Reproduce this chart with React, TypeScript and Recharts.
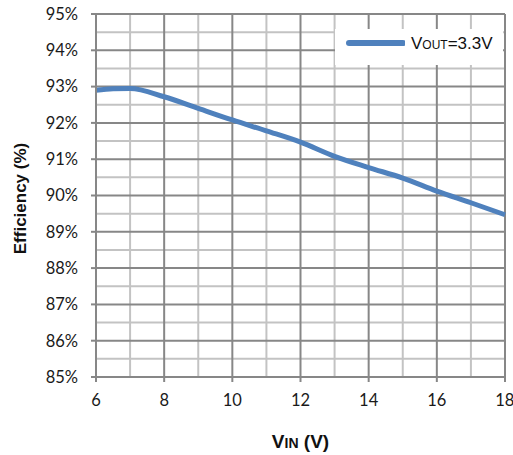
import React from 'react';
import { LineChart, Line, XAxis, YAxis, ReferenceLine } from 'recharts';

// Efficiency vs input voltage, Vout = 3.3V
const vinValues = [6, 6.5, 7, 8, 9, 10, 11, 12, 13, 14, 15, 16, 17, 18];
const efficiencyValues = [92.9, 92.94, 92.95, 92.72, 92.4, 92.08, 91.78, 91.47, 91.08, 90.77, 90.48, 90.12, 89.8, 89.47];

const xTicks = [6, 8, 10, 12, 14, 16, 18];
const yTicks = [85, 86, 87, 88, 89, 90, 91, 92, 93, 94, 95];
const xMinor = [7, 9, 11, 13, 15, 17];
const yMinor = [85.5, 86.5, 87.5, 88.5, 89.5, 90.5, 91.5, 92.5, 93.5, 94.5];

const data = vinValues.map((v, i) => ({ vin: v, eff: efficiencyValues[i] }));

const MAJOR = '#878787';
const MINOR = '#c3c3c3';
const BLUE = '#4f81bd';
const tickFont = { fontFamily: 'Lato, "Open Sans", sans-serif', fontSize: 16.5, fill: '#1a1a1a' };

const LegendBox = () => (
  <div style={{ position: 'absolute', top: 29, left: 335, width: 168, height: 36, background: '#fff', display: 'flex', alignItems: 'center', fontFamily: '"Liberation Sans", Arial, sans-serif', color: '#111' }}>
    <svg width={70} height={36}>
      <line x1={14} y1={14} x2={68} y2={14} stroke={BLUE} strokeWidth={6} strokeLinecap="round" />
    </svg>
    <span style={{ fontSize: 17, marginTop: -6, marginLeft: 6 }}>
      V<span style={{ fontSize: 12 }}>OUT</span>=3.3V
    </span>
  </div>
);

const XLabel = (props: any) => {
  const vb = props.viewBox || {};
  const cx = vb.x + vb.width / 2;
  return (
    <text x={cx} y={448} textAnchor="middle" fontFamily='"Liberation Sans", Arial, sans-serif' fontWeight="bold" fontSize={19} fill="#111">
      V<tspan fontSize={14}>IN</tspan> (V)
    </text>
  );
};

const YLabel = (props: any) => {
  const vb = props.viewBox || {};
  const cy = vb.y + vb.height / 2 + 3;
  return (
    <text x={26} y={cy} transform={`rotate(-90 26 ${cy})`} textAnchor="middle" fontFamily='"Liberation Sans", Arial, sans-serif' fontWeight="bold" fontSize={17} fill="#111">
      Efficiency (%)
    </text>
  );
};

export default function App() {
  return (
    <div style={{ position: 'absolute', left: 0, top: 0, width: 513, height: 455, background: '#fff' }}>
      <LineChart width={513} height={455} data={data} margin={{ top: 14, right: 8, bottom: 0, left: 0 }}>
        <XAxis
          dataKey="vin"
          type="number"
          domain={[6, 18]}
          ticks={xTicks}
          height={78}
          axisLine={{ stroke: MAJOR, strokeWidth: 2 }}
          tickLine={{ stroke: MAJOR, strokeWidth: 2 }}
          tickSize={5}
          tickMargin={12}
          tick={tickFont}
          label={<XLabel />}
        />
        <YAxis
          type="number"
          domain={[85, 95]}
          ticks={yTicks}
          width={96}
          axisLine={{ stroke: MAJOR, strokeWidth: 2 }}
          tickLine={{ stroke: MAJOR, strokeWidth: 2 }}
          tickSize={5}
          tickMargin={13}
          tick={tickFont}
          tickFormatter={(v: number) => `${v}%`}
          label={<YLabel />}
        />
        {xMinor.map(v => (
          <ReferenceLine key={`xm${v}`} x={v} stroke={MINOR} strokeWidth={2} />
        ))}
        {yMinor.map(v => (
          <ReferenceLine key={`ym${v}`} y={v} stroke={MINOR} strokeWidth={2} />
        ))}
        {xTicks.map(v => (
          <ReferenceLine key={`xM${v}`} x={v} stroke={MAJOR} strokeWidth={2} />
        ))}
        {yTicks.map(v => (
          <ReferenceLine key={`yM${v}`} y={v} stroke={MAJOR} strokeWidth={2} />
        ))}
        <Line
          dataKey="eff"
          type="monotone"
          stroke={BLUE}
          strokeWidth={5}
          dot={false}
          activeDot={false}
          isAnimationActive={false}
        />
      </LineChart>
      <LegendBox />
    </div>
  );
}
